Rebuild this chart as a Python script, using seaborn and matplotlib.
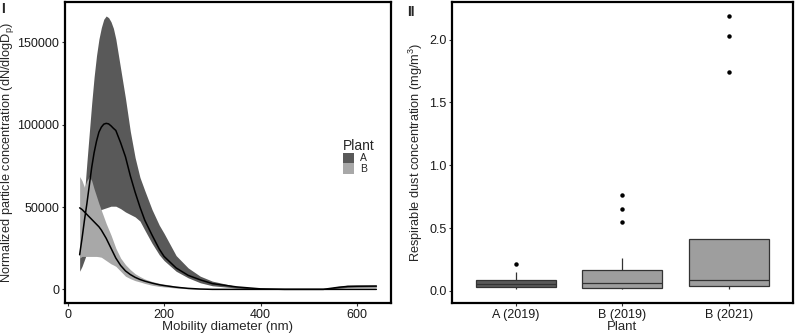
import numpy as np
import pandas as pd
import matplotlib
matplotlib.use("Agg")
import matplotlib.pyplot as plt
import seaborn as sns

# ---------------- Panel I data (size distributions) ----------------
diam = [25, 30, 35, 40, 45, 50, 55, 60, 65, 70,
        75, 80, 85, 90, 95, 100, 110, 120, 130, 140,
        150, 160, 175, 190, 200, 225, 250, 275, 300, 350,
        400, 450, 500, 530, 560, 580, 600, 640]
a_mean = [21000, 31000, 42000, 52000, 63000, 74000, 83000, 90000, 95500, 98500,
          100300, 100800, 100500, 99300, 97800, 96500, 89000, 80500, 69000, 59000,
          50000, 42000, 33000, 24500, 20000, 13000, 8500, 5800, 3500, 1500,
          300, 0, 0, 0, 1200, 1800, 1900, 2000]
a_upper = [22000, 38000, 58000, 77000, 95000, 113000, 129000, 142000, 152000, 159000,
           164000, 166000, 165000, 162500, 158500, 152000, 134000, 116000, 96000, 80000,
           68000, 60000, 48500, 39000, 34000, 20500, 13000, 8000, 5000, 1800,
           300, 0, 0, 0, 1800, 2500, 2600, 2600]
a_lower = [11000, 14000, 18000, 22000, 28000, 34000, 40000, 44500, 47500, 48500,
           49000, 49500, 50000, 50500, 50500, 50500, 49000, 47000, 45500, 44000,
           41500, 36000, 28000, 21000, 17500, 11000, 7000, 4000, 2200, 800,
           0, 0, 0, 0, 700, 1200, 1300, 1400]
b_mean = [49500, 48500, 47000, 45500, 44000, 42500, 41000, 39500, 38000, 36000,
          33500, 31000, 28000, 25000, 22000, 19000, 14500, 11200, 9000, 7300,
          6000, 5000, 3800, 2800, 2300, 1300, 600, 200, 0, 0,
          0, 0, 0, 0, 0, 0, 0, 0]
b_upper = [68500, 66000, 62000, 66000, 68500, 66000, 61000, 56500, 52000, 48000,
           44000, 40000, 36500, 33000, 29000, 25000, 19000, 15000, 12000, 9500,
           7800, 6300, 4800, 3700, 3200, 2000, 1000, 400, 0, 0,
           0, 0, 0, 0, 0, 0, 0, 0]
b_lower = [19000, 20000, 20000, 20000, 20000, 20000, 20000, 20000, 19800, 19500,
           18500, 17500, 16500, 15500, 14800, 14000, 11000, 8000, 6500, 5300,
           4500, 3600, 2500, 1800, 1500, 800, 300, 0, 0, 0,
           0, 0, 0, 0, 0, 0, 0, 0]
plants = ["A", "B"]
fill_colors = {"A": "#595959", "B": "#a8a8a8"}

# ---------------- Panel II data (respirable dust) ----------------
box_groups = ["A (2019)", "B (2019)", "B (2021)"]
dust_a2019 = [0.013, 0.022, 0.032, 0.045, 0.055, 0.070, 0.087, 0.153, 0.218]
dust_b2019 = [0.013, 0.016, 0.020, 0.024, 0.027, 0.035, 0.045, 0.055, 0.066,
              0.090, 0.110, 0.140, 0.166, 0.263, 0.545, 0.653, 0.763]
dust_b2021 = [0.013, 0.020, 0.030, 0.037, 0.050, 0.070, 0.087, 0.200, 0.330,
              0.413, 1.742, 2.030, 2.190]
box_colors = {"A (2019)": "#595959", "B (2019)": "#9e9e9e", "B (2021)": "#9e9e9e"}

# ---------------- styling ----------------
sns.set_theme(style="white")
plt.rcParams["font.family"] = ["Liberation Sans", "DejaVu Sans"]
plt.rcParams["mathtext.fontset"] = "custom"
plt.rcParams["mathtext.rm"] = "Liberation Sans"
plt.rcParams["mathtext.it"] = "Liberation Sans"

fig = plt.figure(figsize=(8, 3.33), dpi=100)
ax1 = fig.add_axes([0.081, 0.090, 0.408, 0.904])
ax2 = fig.add_axes([0.565, 0.090, 0.426, 0.904])

# Panel I
df_line = pd.DataFrame({
    "diam": diam * 2,
    "conc": a_mean + b_mean,
    "Plant": ["A"] * len(diam) + ["B"] * len(diam),
})
ax1.fill_between(diam, a_lower, a_upper, color=fill_colors["A"], lw=0, label="A")
ax1.fill_between(diam, b_lower, b_upper, color=fill_colors["B"], lw=0, label="B")
sns.lineplot(data=df_line, x="diam", y="conc", hue="Plant",
             palette={"A": "black", "B": "black"}, linewidth=1.1,
             legend=False, ax=ax1)
ax1.set_xlim(-5.75, 670.75)
ax1.set_ylim(-8300, 174500)
ax1.set_xticks([0, 200, 400, 600])
ax1.set_yticks([0, 50000, 100000, 150000])
ax1.set_yticklabels(["0", "50000", "100000", "150000"])
ax1.set_xlabel("Mobility diameter (nm)", fontsize=9.5, labelpad=0)
ax1.set_ylabel(r"Normalized particle concentration (dN/dlogD$_\mathregular{p}$)",
               fontsize=9.2, labelpad=1)
leg = ax1.legend(title="Plant", loc="upper left", bbox_to_anchor=(0.84, 0.56),
                 frameon=False, fontsize=7.5, title_fontsize=10,
                 handlelength=1.0, handleheight=1.2, handletextpad=0.6,
                 labelspacing=0.0, borderaxespad=0)
leg._legend_box.align = "left"

# Panel II
df_box = pd.DataFrame({
    "Plant": ["A (2019)"] * len(dust_a2019) + ["B (2019)"] * len(dust_b2019)
             + ["B (2021)"] * len(dust_b2021),
    "dust": dust_a2019 + dust_b2019 + dust_b2021,
})
sns.boxplot(data=df_box, x="Plant", y="dust", hue="Plant", order=box_groups,
            palette=box_colors, width=0.75, linecolor="#333333", linewidth=0.9,
            showcaps=False, saturation=1, legend=False,
            flierprops=dict(marker="o", markersize=2.2, markerfacecolor="black",
                            markeredgecolor="black"), ax=ax2)
ax2.set_xlim(-0.6, 2.6)
ax2.set_ylim(-0.096, 2.299)
ax2.set_yticks([0.0, 0.5, 1.0, 1.5, 2.0])
ax2.set_yticklabels(["0.0", "0.5", "1.0", "1.5", "2.0"])
ax2.set_xlabel("Plant", fontsize=9.5, labelpad=0)
ax2.set_ylabel(r"Respirable dust concentration (mg/m$^\mathregular{3}$)",
               fontsize=9.2, labelpad=3)

for ax in (ax1, ax2):
    for sp in ax.spines.values():
        sp.set_visible(True)
        sp.set_color("black")
        sp.set_linewidth(1.6)
    ax.tick_params(axis="both", which="both", direction="out", length=2.5,
                   width=0.8, color="#333333", labelsize=9, labelcolor="#1a1a1a",
                   pad=1.5, bottom=True, left=True)
    ax.grid(False)

fig.text(0.001, 0.995, "I", fontsize=10, fontweight="bold", va="top", ha="left")
fig.text(0.509, 0.985, "II", fontsize=10, fontweight="bold", va="top", ha="left")

fig.savefig("out.png", dpi=100)
